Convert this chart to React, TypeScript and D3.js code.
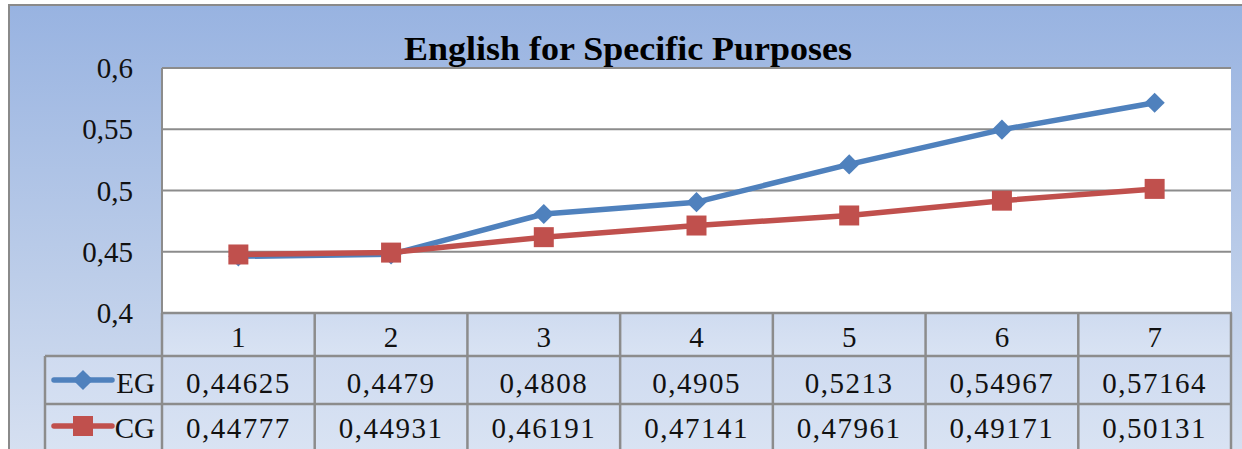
import React from "react";
import * as d3 from "d3";

const categories = ["1", "2", "3", "4", "5", "6", "7"];
const egValues = [0.44625, 0.4479, 0.4808, 0.4905, 0.5213, 0.54967, 0.57164];
const cgValues = [0.44777, 0.44931, 0.46191, 0.47141, 0.47961, 0.49171, 0.50131];
const egLabels = ["0,44625", "0,4479", "0,4808", "0,4905", "0,5213", "0,54967", "0,57164"];
const cgLabels = ["0,44777", "0,44931", "0,46191", "0,47141", "0,47961", "0,49171", "0,50131"];
const yTicks = [0.4, 0.45, 0.5, 0.55, 0.6];
const yTickLabels = ["0,4", "0,45", "0,5", "0,55", "0,6"];
const seriesNames = ["EG", "CG"];
const title = "English for Specific Purposes";

const W = 1242;
const H = 449;
const plotL = 162;
const plotR = 1231;
const plotT = 68;
const plotB = 313;
const legendL = 45;
const rowH = [43, 48, 48];
const BLUE = "#4f81bd";
const RED = "#c0504d";
const GRID = "#8c8c8c";
const FONT = "'Liberation Serif', 'Times New Roman', serif";

export default function App() {
  const x = d3.scaleBand<string>().domain(categories).range([plotL, plotR]);
  const y = d3.scaleLinear().domain([0.4, 0.6]).range([plotB, plotT]);
  const cx = (c: string) => (x(c) as number) + x.bandwidth() / 2;
  const line = d3
    .line<number>()
    .x((_, i) => cx(categories[i]))
    .y((d) => y(d));

  const row0 = plotB;
  const row1 = row0 + rowH[0];
  const row2 = row1 + rowH[1];
  const row3 = row2 + rowH[2];

  const diamond = d3.symbol().type(d3.symbolDiamond2).size(260)();
  const square = d3.symbol().type(d3.symbolSquare).size(400)();

  return (
    <svg
      width={W}
      height={H}
      style={{ position: "absolute", left: 0, top: 0 }}
      fontFamily={FONT}
    >
      <defs>
        <linearGradient id="bg" x1="0" y1="0" x2="0" y2="1">
          <stop offset="0%" stopColor="#98b3e1" />
          <stop offset="60%" stopColor="#bccde9" />
          <stop offset="100%" stopColor="#d6e0f1" />
        </linearGradient>
        <linearGradient id="cell" x1="0" y1="0" x2="0" y2="1">
          <stop offset="0%" stopColor="#cfdbf0" />
          <stop offset="100%" stopColor="#d9e3f3" />
        </linearGradient>
      </defs>
      <rect x={0} y={0} width={W} height={H} fill="#ffffff" />
      <rect x={9} y={5} width={W} height={H} fill="url(#bg)" stroke="#8a8a8a" strokeWidth={2} />

      <text
        x={628}
        y={60}
        textAnchor="middle"
        fontWeight="bold"
        fontSize={33}
        textLength={448}
        lengthAdjust="spacingAndGlyphs"
        fill="#000"
      >
        {title}
      </text>

      {/* plot area */}
      <rect x={plotL} y={plotT} width={plotR - plotL} height={plotB - plotT} fill="#fff" />
      {yTicks.map((t, i) => (
        <g key={t}>
          <line x1={plotL} x2={plotR} y1={y(t)} y2={y(t)} stroke={GRID} strokeWidth={2} />
          <text x={133} y={y(t)} dy="0.35em" textAnchor="end" fontSize={29} fill="#111">
            {yTickLabels[i]}
          </text>
        </g>
      ))}
      <line x1={plotL} x2={plotL} y1={plotT} y2={plotB} stroke={GRID} strokeWidth={2} />

      {/* series */}
      <path d={line(egValues) as string} fill="none" stroke={BLUE} strokeWidth={5.5} strokeLinejoin="round" />
      <path d={line(cgValues) as string} fill="none" stroke={RED} strokeWidth={5.5} strokeLinejoin="round" />
      {egValues.map((v, i) => (
        <path key={"e" + i} d={diamond as string} transform={`translate(${cx(categories[i])},${y(v)})`} fill={BLUE} />
      ))}
      {cgValues.map((v, i) => (
        <path key={"c" + i} d={square as string} transform={`translate(${cx(categories[i])},${y(v)})`} fill={RED} />
      ))}

      {/* data table */}
      <rect x={plotL} y={row0} width={plotR - plotL} height={rowH[0]} fill="url(#cell)" />
      <rect x={legendL} y={row1} width={plotR - legendL} height={row3 - row1} fill="url(#cell)" />
      <line x1={plotL} x2={plotR + 1} y1={row0} y2={row0} stroke={GRID} strokeWidth={2.5} />
      <line x1={legendL} x2={plotR + 1} y1={row1} y2={row1} stroke={GRID} strokeWidth={2.5} />
      <line x1={legendL} x2={plotR + 1} y1={row2} y2={row2} stroke={GRID} strokeWidth={2.5} />
      <line x1={legendL} x2={legendL} y1={row1} y2={row3} stroke={GRID} strokeWidth={2.5} />
      {categories.map((c) => (
        <line key={"v" + c} x1={x(c) as number} x2={x(c) as number} y1={row0} y2={row3} stroke={GRID} strokeWidth={2.5} />
      ))}
      <line x1={plotR} x2={plotR} y1={row0} y2={row3} stroke={GRID} strokeWidth={2.5} />

      {categories.map((c) => (
        <text key={"h" + c} x={cx(c)} y={347} textAnchor="middle" fontSize={29} fill="#111">
          {c}
        </text>
      ))}
      {egLabels.map((l, i) => (
        <text key={"el" + i} x={cx(categories[i])} y={393} textAnchor="middle" fontSize={29} letterSpacing={1.5} fill="#111">
          {l}
        </text>
      ))}
      {cgLabels.map((l, i) => (
        <text key={"cl" + i} x={cx(categories[i])} y={438} textAnchor="middle" fontSize={29} letterSpacing={1.5} fill="#111">
          {l}
        </text>
      ))}

      {/* legend keys */}
      {[BLUE, RED].map((col, i) => {
        const ym = i === 0 ? (row1 + row2) / 2 : (row2 + row3) / 2 - 2;
        return (
          <g key={"lg" + i}>
            <line x1={54} x2={112} y1={ym} y2={ym} stroke={col} strokeWidth={5.5} strokeLinecap="round" />
            <path d={(i === 0 ? diamond : square) as string} transform={`translate(83,${ym})`} fill={col} />
            <text x={155} y={i === 0 ? 393 : 438} textAnchor="end" fontSize={29} fill="#111">
              {seriesNames[i]}
            </text>
          </g>
        );
      })}
    </svg>
  );
}
